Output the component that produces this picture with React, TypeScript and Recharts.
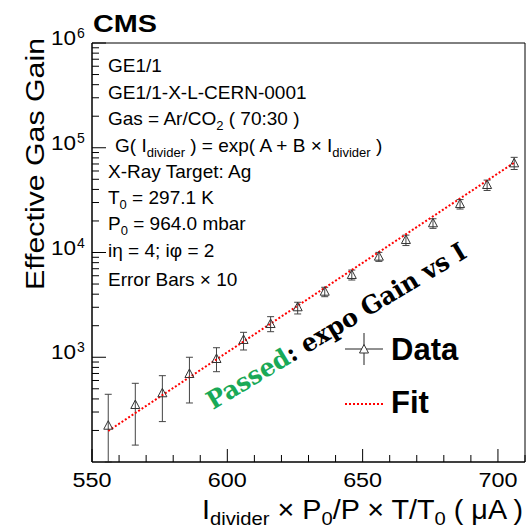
import React from 'react';
import { ComposedChart, Scatter, Line, XAxis, YAxis, ErrorBar, ReferenceArea, Legend } from 'recharts';

// divider current (uA), normalised to P0/T0
const currentX = [556, 566, 576, 586, 596, 606, 616, 626, 636, 646, 656, 666, 676, 686, 696, 706];
// effective gas gain
const gainY = [222, 350, 453, 692, 962, 1462, 2076, 2999, 4225, 6100, 9125, 13150, 19000, 29000, 44100, 71000];
// error bars (already x10), down / up; first one runs off the frame
const errDown = [122, 205, 210, 326, 234, 289, 322, 409, 440, 640, 900, 1500, 2000, 3000, 5000, 9000];
const errUp = [221, 214, 214, 308, 271, 268, 364, 351, 430, 700, 900, 1500, 2000, 3000, 5000, 10000];
// expo fit end points
const fitX = [556, 706];
const fitY = [198, 72000];

const xMajor = [550, 600, 650, 700];
const yMajor = [1e3, 1e4, 1e5, 1e6];

const points = currentX.map((x, i) => ({ x, gain: gainY[i], err: [errDown[i], errUp[i]] }));
const fitPts = fitX.map((x, i) => ({ x, fit: fitY[i] }));

const xTicks: number[] = [];
for (let v = 550; v <= 710; v += 10) xTicks.push(v);
const yTicks: number[] = [];
for (let d = 100; d < 1e6; d *= 10) for (let k = 1; k < 10; k++) yTicks.push(d * k);
yTicks.push(1e6);

const SANS = 'Liberation Sans, Arial, Helvetica, sans-serif';
const INK = '#000';

const XTick = ({ x, y, payload }: any) => {
  const major = xMajor.includes(payload.value);
  return (
    <g>
      <line x1={x} y1={y} x2={x} y2={y - (major ? 13 : 7)} stroke={INK} />
      {major && (
        <text x={x} y={y + 25} textAnchor="middle" fontFamily={SANS} fontSize={20} fill={INK}
          textLength={39} lengthAdjust="spacingAndGlyphs">
          {payload.value}
        </text>
      )}
    </g>
  );
};

const YTick = ({ x, y, payload }: any) => {
  const v = payload.value;
  const major = yMajor.includes(v);
  if (v === 100) return <g />;
  return (
    <g>
      <line x1={x} y1={y} x2={x + (major ? 14 : 7)} y2={y} stroke={INK} />
      {major && (
        <g fontFamily={SANS} fill={INK}>
          <text x={x - 16} y={y + 2} textAnchor="end" fontSize={20} textLength={25} lengthAdjust="spacingAndGlyphs">10</text>
          <text x={x - 15} y={y - 5} fontSize={14}>{Math.round(Math.log10(v))}</text>
        </g>
      )}
    </g>
  );
};

const Tri = ({ cx, cy }: any) => (
  <polygon points={`${cx},${cy - 5} ${cx - 4.5},${cy + 3.5} ${cx + 4.5},${cy + 3.5}`}
    fill="none" stroke="#333" strokeWidth={1} />
);

const LegendBox = () => (
  <svg width={150} height={95} style={{ overflow: 'visible' }}>
    <line x1={5} y1={24} x2={43} y2={24} stroke="#222" />
    <line x1={24} y1={8} x2={24} y2={40} stroke="#222" />
    <polygon points="24,19.5 19.5,28 28.5,28" fill="#fff" stroke="#333" />
    <text x={51} y={35} fontFamily={SANS} fontWeight="bold" fontSize={31} fill={INK}>Data</text>
    <line x1={5} y1={79} x2={43} y2={79} stroke="#ff0000" strokeWidth={2} strokeDasharray="2 2" />
    <text x={51} y={88} fontFamily={SANS} fontWeight="bold" fontSize={31} fill={INK}>Fit</text>
  </svg>
);

const infoY = [72, 99, 125, 152, 178, 204, 230, 257, 286];

export default function App() {
  return (
    <div style={{ position: 'absolute', left: 0, top: 0, width: 528, height: 529, background: '#fff' }}>
      <ComposedChart width={528} height={529} data={points}
        margin={{ top: 43, right: 3, bottom: 37, left: 52 }}>
        <XAxis dataKey="x" type="number" domain={[550, 710]} ticks={xTicks} interval={0}
          tick={(p: any) => <XTick {...p} />} tickSize={0} tickMargin={0} height={30}
          axisLine={{ stroke: INK }} allowDataOverflow />
        <YAxis type="number" scale="log" domain={[100, 1e6]} ticks={yTicks} interval={0}
          tick={(p: any) => <YTick {...p} />} tickSize={0} tickMargin={0} width={40}
          axisLine={{ stroke: INK }} allowDataOverflow />
        <ReferenceArea x1={550} x2={710} y1={100} y2={1e6} fill="none" stroke={INK} strokeWidth={1}
          ifOverflow="visible" />
        <Scatter data={points} dataKey="gain" shape={(p: any) => <Tri {...p} />} isAnimationActive={false}>
          <ErrorBar dataKey="err" direction="y" width={3.5} stroke="#444" strokeWidth={1} isAnimationActive={false} />
        </Scatter>
        <Line data={fitPts} dataKey="fit" type="linear" stroke="#ff0000" strokeWidth={2}
          strokeDasharray="2 2" dot={false} activeDot={false} isAnimationActive={false} />
        <Legend verticalAlign="middle" align="center" layout="vertical"
          wrapperStyle={{ left: 340, top: 325, width: 150, height: 95 }}
          content={() => <LegendBox />} />
      </ComposedChart>

      <svg width={528} height={529} style={{ position: 'absolute', left: 0, top: 0, pointerEvents: 'none' }}>
        <text x={93} y={32} fontFamily={SANS} fontWeight="bold" fontSize={23} fill={INK}
          textLength={64} lengthAdjust="spacingAndGlyphs">CMS</text>

        <g fontFamily={SANS} fontSize={19} fill={INK}>
          <text x={108} y={infoY[0]}>GE1/1</text>
          <text x={108} y={infoY[1]}>GE1/1-X-L-CERN-0001</text>
          <text x={108} y={infoY[2]}>
            Gas = Ar/CO<tspan fontSize={13} dy={5}>2</tspan><tspan dy={-5}>{' ( 70:30 )'}</tspan>
          </text>
          <text x={115} y={infoY[3]}>
            G( I<tspan fontSize={13} dy={5}>divider</tspan><tspan dy={-5}>{' ) = exp( A + B × I'}</tspan>
            <tspan fontSize={13} dy={5}>divider</tspan><tspan dy={-5}>{' )'}</tspan>
          </text>
          <text x={108} y={infoY[4]}>X-Ray Target: Ag</text>
          <text x={108} y={infoY[5]}>
            T<tspan fontSize={13} dy={5}>0</tspan><tspan dy={-5}>{' = 297.1 K'}</tspan>
          </text>
          <text x={108} y={infoY[6]}>
            P<tspan fontSize={13} dy={5}>0</tspan><tspan dy={-5}>{' = 964.0 mbar'}</tspan>
          </text>
          <text x={108} y={infoY[7]}>iη = 4; iφ = 2</text>
          <text x={108} y={infoY[8]}>Error Bars × 10</text>
        </g>

        <text transform="translate(213,410) rotate(-31)" fontFamily="DejaVu Serif, serif" fontWeight="bold"
          fontSize={25} textLength={298} lengthAdjust="spacingAndGlyphs">
          <tspan fill="#19a957">Passed</tspan>
          <tspan fill={INK}>: expo Gain vs I</tspan>
        </text>

        <text transform="translate(44,38) rotate(-90)" textAnchor="end" fontFamily={SANS} fontSize={26} fill={INK}
          textLength={252} lengthAdjust="spacingAndGlyphs">Effective Gas Gain</text>

        <text x={202} y={519} fontFamily={SANS} fontSize={27} fill={INK} textLength={321} lengthAdjust="spacingAndGlyphs">
          I<tspan fontSize={19} dy={6}>divider</tspan><tspan dy={-6}>{' × P'}</tspan><tspan fontSize={19} dy={6}>0</tspan><tspan dy={-6}>/P × T/T</tspan><tspan fontSize={19} dy={6}>0</tspan><tspan dy={-6}>{' ( μA )'}</tspan>
        </text>
      </svg>
    </div>
  );
}
